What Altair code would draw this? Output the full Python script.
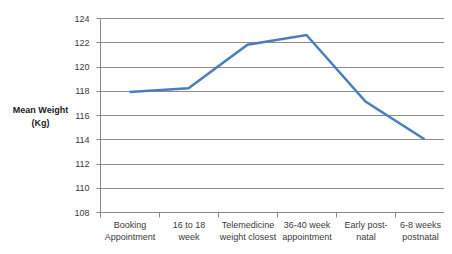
import altair as alt
import pandas as pd

categories = [
    "Booking\nAppointment",
    "16 to 18\nweek\nappointment",
    "Telemedicine\nweight closest\nto delivery",
    "36-40 week\nappointment",
    "Early post-\nnatal",
    "6-8 weeks\npostnatal",
]
mean_weight = [117.9, 118.2, 121.8, 122.6, 117.1, 114.0]
y_ticks = [108, 110, 112, 114, 116, 118, 120, 122, 124]

df = pd.DataFrame({"stage": categories, "weight": mean_weight})

FONT = "Liberation Sans"
last_cat = categories[-1].replace("\n", "\\n")
is_last = f"datum.label == '{last_cat}'"

x_scale = alt.Scale(type="band", paddingInner=0, paddingOuter=0, range=[0, 354])

label_style = dict(
    title=None,
    orient="bottom",
    labelAngle=0,
    labelFont=FONT,
    labelFontSize=9,
    labelColor="#3a3a3a",
    labelLineHeight=12.5,
    labelPadding=3,
    labelBaseline="top",
    grid=False,
)

y_enc = alt.Y(
    "weight:Q",
    scale=alt.Scale(domain=[108, 124], nice=False, zero=False),
    axis=alt.Axis(
        values=y_ticks,
        title=["Mean Weight", "(Kg)"],
        titleAngle=0,
        titleAlign="center",
        titleBaseline="top",
        titleX=-60,
        titleY=87,
        titleFont=FONT,
        titleFontSize=9,
        titleFontWeight="bold",
        titleColor="#222222",
        titleLineHeight=13,
        labelFont=FONT,
        labelFontSize=9,
        labelColor="#3a3a3a",
        labelPadding=7,
        tickSize=4,
        tickColor="#888888",
        domainColor="#888888",
        gridColor="#8c8c8c",
        gridWidth=1,
    ),
)

line = (
    alt.Chart(df)
    .mark_line(color="#4a7ebb", strokeWidth=2.5)
    .encode(
        x=alt.X(
            "stage:N",
            sort=categories,
            bandPosition=0.5,
            scale=x_scale,
            axis=alt.Axis(
                labelExpr=f"{is_last} ? '' : split(datum.label, '\\n')",
                tickBand="extent",
                tickSize=5,
                tickColor="#888888",
                domainColor="#888888",
                **label_style,
            ),
        ),
        y=y_enc,
    )
)

last_label = (
    alt.Chart(df)
    .mark_line(opacity=0)
    .encode(
        x=alt.X(
            "stage:N",
            sort=categories,
            bandPosition=0.5,
            scale=x_scale,
            axis=alt.Axis(
                labelExpr=f"{is_last} ? split(datum.label, '\\n') : ''",
                labelOffset=-4,
                domain=False,
                ticks=False,
                tickSize=5,
                labelPadding=8,
                **{k: v for k, v in label_style.items() if k != "labelPadding"},
            ),
        ),
        y=y_enc,
    )
)

chart = (
    alt.layer(line, last_label)
    .resolve_axis(x="independent")
    .properties(
        width=344,
        height=194,
        padding={"left": 92, "top": 10, "right": 0, "bottom": 34},
        autosize=alt.AutoSizeParams(type="none"),
    )
    .configure_view(stroke=None)
)

chart.save("out.html", embed_options={"renderer": "svg", "actions": False})
